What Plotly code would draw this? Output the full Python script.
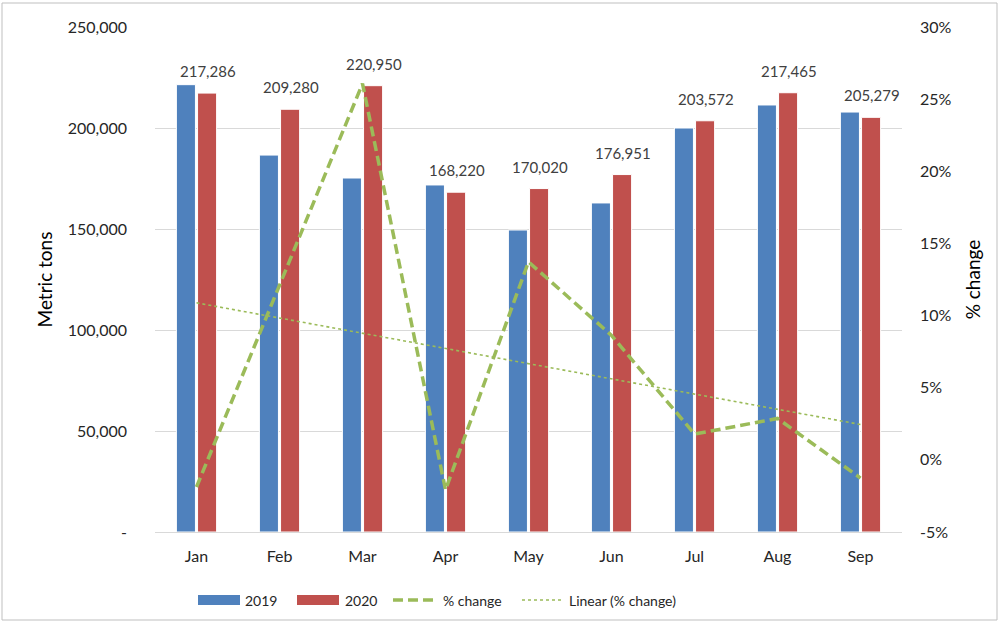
import numpy as np
import plotly.graph_objects as go

months = ["Jan", "Feb", "Mar", "Apr", "May", "Jun", "Jul", "Aug", "Sep"]
tons_2019 = [221450, 186600, 175250, 171800, 149500, 162900, 200000, 211400, 207900]
tons_2020 = [217286, 209280, 220950, 168220, 170020, 176951, 203572, 217465, 205279]

left_ticks = [0, 50000, 100000, 150000, 200000, 250000]
left_tick_text = ["-", "50,000", "100,000", "150,000", "200,000", "250,000"]
right_ticks = [-5, 0, 5, 10, 15, 20, 25, 30]
right_tick_text = ["-5%", "0%", "5%", "10%", "15%", "20%", "25%", "30%"]

pct_change = [(b / a - 1) * 100 for a, b in zip(tons_2019, tons_2020)]
idx = np.arange(len(months))
slope, intercept = np.polyfit(idx, pct_change, 1)
trend = list(intercept + slope * idx)

BLUE = "#4F81BD"
RED = "#C0504D"
GREEN = "#9BBB59"
FONT = "Lato"
TXT = "#262626"
DASH = "10px,5px"

fig = go.Figure()
fig.add_trace(go.Bar(
    x=months, y=tons_2019, name="2019",
    marker=dict(color=BLUE, line=dict(color="#FFFFFF", width=1)),
))
fig.add_trace(go.Bar(
    x=months, y=tons_2020, name="2020",
    marker=dict(color=RED, line=dict(color="#FFFFFF", width=1)),
))
fig.add_trace(go.Scatter(
    x=months, y=pct_change, name="% change", yaxis="y2", mode="lines",
    line=dict(color=GREEN, width=3.5, dash=DASH),
))
fig.add_trace(go.Scatter(
    x=months, y=trend, name="Linear (% change)", yaxis="y2", mode="lines",
    line=dict(color=GREEN, width=1.6, dash="dot"),
))

L, R, T, B = 155, 103, 27, 94
pw, ph = 1005 - L - R, 626 - T - B


def px_x(x):
    return (x - L) / pw


def px_y(y):
    return (626 - B - y) / ph


# Value labels above the 2020 bars
value_labels = [
    dict(text=f"{v:,}", x=m, y=v, xref="x", yref="y", xshift=11, yshift=11,
         xanchor="center", yanchor="bottom", showarrow=False,
         font=dict(family=FONT, size=15, color="#404040"))
    for m, v in zip(months, tons_2020)
]

# Legend drawn in the bottom margin: swatches as shapes, names as annotations
legend_y = 600
shapes = [
    dict(type="rect", xref="paper", yref="paper",
         x0=px_x(2), x1=px_x(997), y0=px_y(620), y1=px_y(3),
         line=dict(color="#BFBFBF", width=1), fillcolor="rgba(0,0,0,0)", layer="below"),
    dict(type="rect", xref="paper", yref="paper",
         x0=px_x(198), x1=px_x(240), y0=px_y(legend_y + 5), y1=px_y(legend_y - 5),
         fillcolor=BLUE, line=dict(width=0)),
    dict(type="rect", xref="paper", yref="paper",
         x0=px_x(297), x1=px_x(339), y0=px_y(legend_y + 5), y1=px_y(legend_y - 5),
         fillcolor=RED, line=dict(width=0)),
    dict(type="line", xref="paper", yref="paper",
         x0=px_x(393), x1=px_x(438), y0=px_y(legend_y), y1=px_y(legend_y),
         line=dict(color=GREEN, width=3.5, dash=DASH)),
    dict(type="line", xref="paper", yref="paper",
         x0=px_x(522), x1=px_x(562), y0=px_y(legend_y), y1=px_y(legend_y),
         line=dict(color=GREEN, width=1.6, dash="dot")),
]
legend_names = [("2019", 243), ("2020", 343), ("% change", 441), ("Linear (% change)", 567)]
legend_labels = [
    dict(text=name, xref="paper", yref="paper", x=px_x(x0), y=px_y(legend_y),
         xanchor="left", yanchor="middle", showarrow=False,
         font=dict(family=FONT, size=14, color=TXT))
    for name, x0 in legend_names
]

fig.update_layout(
    width=1005, height=626,
    margin=dict(l=L, r=R, t=T, b=B, autoexpand=False),
    paper_bgcolor="white", plot_bgcolor="white",
    barmode="group", bargap=0.49, bargroupgap=0.1,
    font=dict(family=FONT, size=15, color=TXT),
    showlegend=False,
    xaxis=dict(showgrid=False, showline=False, ticks="", ticklabelstandoff=13,
               tickfont=dict(family=FONT, size=16, color=TXT)),
    yaxis=dict(range=[0, 250000], tickvals=left_ticks, ticktext=left_tick_text,
               showgrid=True, gridcolor="#D9D9D9", gridwidth=1, zeroline=True,
               zerolinecolor="#D9D9D9", zerolinewidth=1, showline=False,
               ticklabelstandoff=27, tickfont=dict(family=FONT, size=16, color=TXT),
               title=dict(text="Metric tons", standoff=10,
                          font=dict(family=FONT, size=19, color="#000000"))),
    yaxis2=dict(range=[-5, 30], tickvals=right_ticks, ticktext=right_tick_text,
                overlaying="y", side="right", showgrid=False, zeroline=False,
                showline=False, ticklabelstandoff=17,
                tickfont=dict(family=FONT, size=16, color=TXT),
                title=dict(text="% change", standoff=16,
                           font=dict(family=FONT, size=19, color="#000000"))),
    shapes=shapes,
    annotations=value_labels + legend_labels,
)

fig.write_html("out.html")
